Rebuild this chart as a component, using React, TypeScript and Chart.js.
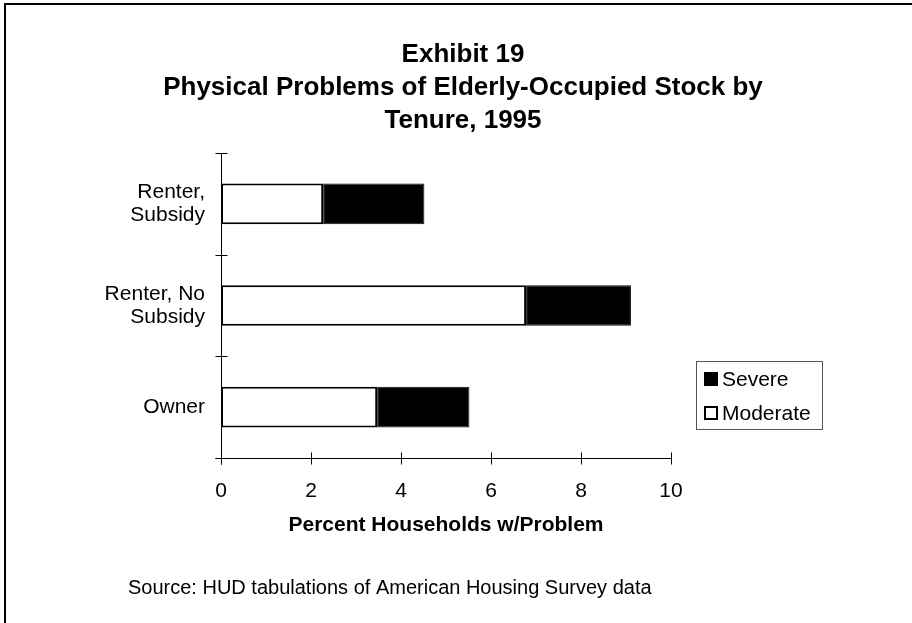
import React, { useEffect, useRef } from "react";
import { Chart, registerables } from "chart.js";

Chart.register(...registerables);

const categories = [["Renter,", "Subsidy"], ["Renter, No", "Subsidy"], ["Owner"]];
const moderate = [2.27, 6.78, 3.47];
const severe = [2.25, 2.33, 2.05];
const xTicks = [0, 2, 4, 6, 8, 10];
const titleLines = ["Exhibit 19", "Physical Problems of Elderly-Occupied Stock by", "Tenure, 1995"];
const xTitle = "Percent Households w/Problem";
const sourceText = "Source: HUD tabulations of American Housing Survey data";
const seriesNames = ["Moderate", "Severe"];

const FONT = "'Liberation Sans', Arial, sans-serif";

const decorPlugin = {
  id: "decor",
  afterDraw(chart: any) {
    const ctx = chart.ctx as CanvasRenderingContext2D;
    const xs = chart.scales.x;
    const ys = chart.scales.y;
    const area = chart.chartArea;
    ctx.save();
    // frame
    ctx.strokeStyle = "#000";
    ctx.lineWidth = 2;
    ctx.beginPath();
    ctx.moveTo(5, 640);
    ctx.lineTo(5, 4);
    ctx.lineTo(920, 4);
    ctx.stroke();

    // title
    ctx.fillStyle = "#000";
    ctx.textAlign = "center";
    ctx.textBaseline = "alphabetic";
    ctx.font = `bold 26px ${FONT}`;
    const tb = [62, 95, 128];
    titleLines.forEach((t, i) => ctx.fillText(t, 463, tb[i]));

    // axes
    ctx.lineWidth = 1;
    ctx.strokeStyle = "#000";
    const x0 = Math.round(xs.getPixelForValue(0)) + 0.5;
    const yb = Math.round(area.bottom) + 0.5;
    ctx.beginPath();
    ctx.moveTo(x0, ys.getPixelForValue(-0.5));
    ctx.lineTo(x0, yb + 6);
    for (let i = 0; i <= categories.length; i++) {
      const yy = Math.round(ys.getPixelForValue(i - 0.5)) + 0.5;
      ctx.moveTo(x0 - 6, yy);
      ctx.lineTo(x0 + 6, yy);
    }
    ctx.moveTo(x0 - 6, yb);
    ctx.lineTo(xs.getPixelForValue(xTicks[xTicks.length - 1]), yb);
    xTicks.forEach((v) => {
      const xx = Math.round(xs.getPixelForValue(v)) + 0.5;
      ctx.moveTo(xx, yb - 6);
      ctx.lineTo(xx, yb + 6);
    });
    ctx.stroke();

    // legend
    const lx = 696.5, ly = 361.5, lw = 126, lh = 68;
    ctx.strokeStyle = "#555";
    ctx.lineWidth = 1;
    ctx.strokeRect(lx, ly, lw, lh);
    const ds = chart.data.datasets;
    const order = [1, 0];
    ctx.font = `21px ${FONT}`;
    ctx.textAlign = "left";
    ctx.textBaseline = "middle";
    order.forEach((di, k) => {
      const cy = 379 + k * 34;
      const d = ds[di];
      ctx.fillStyle = d.backgroundColor;
      ctx.fillRect(704, cy - 7, 14, 14);
      ctx.strokeStyle = "#000";
      ctx.lineWidth = 2;
      ctx.strokeRect(705, cy - 6, 12, 12);
      ctx.fillStyle = "#000";
      ctx.fillText(d.label, 722, cy + 1);
    });

    // source
    ctx.font = `20px ${FONT}`;
    ctx.textAlign = "left";
    ctx.textBaseline = "alphabetic";
    ctx.fillText(sourceText, 128, 594);
    ctx.restore();
  },
};

export default function App() {
  const ref = useRef<HTMLCanvasElement>(null);
  useEffect(() => {
    if (!ref.current) return;
    const chart = new Chart(ref.current, {
      type: "bar",
      data: {
        labels: categories as any,
        datasets: [
          {
            label: seriesNames[0],
            data: moderate,
            backgroundColor: "#ffffff",
            borderColor: "#000000",
            borderWidth: 2,
            borderSkipped: false,
            barPercentage: 0.4,
            categoryPercentage: 1,
          },
          {
            label: seriesNames[1],
            data: severe,
            backgroundColor: "#000000",
            borderColor: "#111111",
            borderWidth: 1,
            borderSkipped: false,
            barPercentage: 0.4,
            categoryPercentage: 1,
          },
        ],
      },
      options: {
        indexAxis: "y",
        animation: false,
        responsive: false,
        layout: { padding: { left: 0, top: 153, right: 241, bottom: 65 } },
        plugins: {
          legend: { display: false },
          title: { display: false },
          tooltip: { enabled: false },
        },
        scales: {
          x: {
            type: "linear",
            min: 0,
            max: 10,
            stacked: true,
            afterFit: (s: any) => {
              s.height = 100;
            },
            afterBuildTicks: (s: any) => {
              s.ticks = xTicks.map((v) => ({ value: v }));
            },
            grid: { display: false, drawTicks: false },
            border: { display: false },
            ticks: {
              padding: 21,
              color: "#000",
              autoSkip: false,
              maxRotation: 0,
              font: { family: FONT, size: 21 },
            },
            title: {
              display: true,
              text: xTitle,
              color: "#000",
              font: { family: FONT, size: 21, weight: "bold" },
              padding: { top: 0, bottom: 20 },
            },
          },
          y: {
            stacked: true,
            afterFit: (s: any) => {
              s.width = 221;
            },
            grid: { display: false, drawTicks: false },
            border: { display: false },
            ticks: {
              padding: 16,
              color: "#000",
              font: { family: FONT, size: 21, lineHeight: 1.1 },
            },
          },
        },
      },
      plugins: [decorPlugin],
    } as any);
    return () => chart.destroy();
  }, []);
  return (
    <div style={{ position: "fixed", left: 0, top: 0, width: 912, height: 623, background: "#fff" }}>
      <canvas ref={ref} width={912} height={623} style={{ display: "block" }} />
    </div>
  );
}
